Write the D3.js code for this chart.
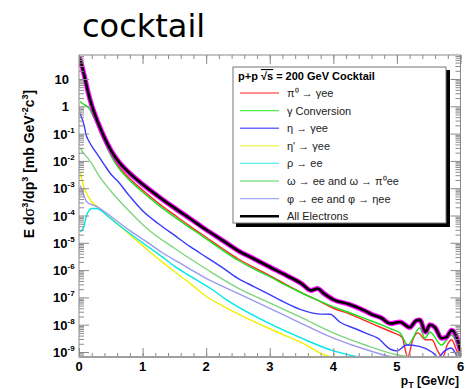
<!DOCTYPE html>
<html>
<head>
<meta charset="utf-8">
<script src="https://cdn.jsdelivr.net/npm/d3@7"></script>
<style>
  body { margin: 0; background: #fff; }
  svg { display: block; }
</style>
</head>
<body>
<div id="chart"></div>
<script>
// pT [GeV/c] vs E d3sigma/dp3 [mb GeV^-2 c^3]
var allElectrons = [[0,63],[0.02,50],[0.05,28],[0.1,8.9],[0.15,2.8],[0.2,1.1],[0.3,0.25],[0.4,0.071],
  [0.5,0.025],[0.6,0.011],[0.8,3.5e-3],[1.0,1.4e-3],[1.25,5.0e-4],[1.5,1.9e-4],[1.75,7.6e-5],[2.0,3.0e-5],
  [2.25,1.26e-5],[2.5,5.2e-6],[2.75,2.6e-6],[3.0,1.3e-6],[3.25,6.6e-7],[3.5,3.2e-7],[3.65,1.8e-7],
  [3.75,2.1e-7],[3.85,1.4e-7],[4.0,8.3e-8],[4.25,5.6e-8],[4.5,3.2e-8],[4.6,2.4e-8],[4.75,1.8e-8],
  [4.9,1.1e-8],[5.05,1.26e-8],[5.2,7.9e-9],[5.3,1.4e-8],[5.36,1.5e-8],[5.45,5.4e-9],[5.52,1.0e-8],
  [5.6,7.9e-9],[5.7,3.2e-9],[5.78,3.5e-9],[5.86,6.3e-9],[5.93,4.0e-9],[6.0,1.1e-9]];

var piZero = [[0,56],[0.02,42],[0.05,22],[0.1,7.1],[0.15,2.2],[0.2,0.85],[0.3,0.19],[0.4,0.052],
  [0.5,0.018],[0.6,7.6e-3],[0.8,2.2e-3],[1.0,8.5e-4],[1.25,2.8e-4],[1.5,1.05e-4],[1.75,4.0e-5],
  [2.0,1.6e-5],[2.25,6.3e-6],[2.5,2.6e-6],[2.75,1.26e-6],[3.0,6.3e-7],[3.25,3.0e-7],[3.5,1.5e-7],
  [3.75,7.9e-8],[4.0,4.0e-8],[4.25,2.5e-8],[4.5,1.4e-8],[4.75,7.9e-9],[4.95,5.0e-9],[5.08,3.5e-9],
  [5.17,4.0e-10],[5.25,2.8e-9],[5.33,5.0e-9],[5.45,2.8e-9],[5.55,2.8e-9],[5.65,1.0e-9],[5.72,4.0e-10],
  [5.8,2.0e-9],[5.86,2.8e-9],[5.95,1.0e-9],[6.0,5.0e-10]];

var gammaConv = [[0.02,1.5],[0.05,1.3],[0.1,1.1],[0.15,0.9],[0.2,0.56],[0.3,0.17],[0.4,0.048],
  [0.5,0.016],[0.6,6.6e-3],[0.8,1.9e-3],[1.0,7.2e-4],[1.25,2.4e-4],[1.5,8.9e-5],[1.75,3.5e-5],
  [2.0,1.4e-5],[2.25,5.5e-6],[2.5,2.3e-6],[2.75,1.1e-6],[3.0,5.8e-7],[3.25,2.8e-7],[3.5,1.45e-7],
  [3.75,7.9e-8],[4.0,4.5e-8],[4.25,2.8e-8],[4.5,1.66e-8],[4.75,1.0e-8],[4.9,7.1e-9],[5.05,5.0e-9],
  [5.17,1.8e-9],[5.36,7.6e-9],[5.44,3.2e-9],[5.52,5.4e-9],[5.7,1.8e-9],[5.86,4.2e-9],[5.97,1.2e-9],
  [6.0,6.3e-10]];

var eta = [[0.02,0.55],[0.08,0.2],[0.12,0.078],[0.15,0.056],[0.2,0.035],[0.3,0.016],[0.4,7.1e-3],
  [0.5,3.3e-3],[0.6,1.9e-3],[0.8,5.0e-4],[1.0,1.5e-4],[1.25,5.0e-5],[1.5,1.9e-5],[1.75,7.2e-6],
  [2.0,3.0e-6],[2.25,1.26e-6],[2.5,5.0e-7],[2.75,2.5e-7],[3.0,1.26e-7],[3.25,6.3e-8],[3.5,3.5e-8],
  [3.75,2.5e-8],[3.95,2.4e-8],[4.1,1.26e-8],[4.35,7.1e-9],[4.5,5.0e-9],[4.7,3.2e-9],[4.9,1.26e-9],
  [5.0,1.1e-9],[5.15,1.8e-9],[5.35,1.6e-9],[5.55,1.0e-9],[5.65,5.6e-10],[5.75,1.1e-9],[5.85,1.4e-9],
  [5.95,5.6e-10]];

var etaPrime = [[0.02,4.0e-3],[0.05,1.8e-3],[0.1,7.9e-4],[0.2,3.2e-4],[0.3,2.0e-4],[0.5,7.9e-5],
  [0.75,2.5e-5],[1.0,7.9e-6],[1.33,1.8e-6],[1.5,8.9e-7],[1.75,3.2e-7],[2.0,1.1e-7],[2.25,5.0e-8],
  [2.5,2.5e-8],[3.0,7.1e-9],[3.5,2.2e-9],[4.0,6.3e-10],[4.4,2.5e-10]];

var rho = [[0.02,2.5e-5],[0.07,3.5e-5],[0.12,1.0e-4],[0.2,1.8e-4],[0.28,1.8e-4],[0.35,1.5e-4],
  [0.43,1.05e-4],[0.6,5.0e-5],[0.8,2.2e-5],[1.0,1.0e-5],[1.33,2.8e-6],[1.5,1.4e-6],[1.75,6.0e-7],
  [2.1,1.9e-7],[2.33,7.9e-8],[2.5,4.5e-8],[3.0,1.1e-8],[3.5,3.2e-9],[4.0,1.1e-9],[4.4,5.0e-10]];

var omega = [[0.02,0.03],[0.08,0.018],[0.14,0.0126],[0.2,7.9e-3],[0.3,3.2e-3],[0.5,7.9e-4],
  [0.75,1.8e-4],[1.06,3.5e-5],[1.5,6.3e-6],[2.0,1.1e-6],[2.5,2.2e-7],[3.0,6.3e-8],[3.5,1.8e-8],
  [4.0,5.0e-9],[4.5,1.8e-9],[5.0,7.9e-10],[5.2,4.5e-10]];

var phi = [[0.02,1.26e-3],[0.06,7.1e-4],[0.12,3.2e-4],[0.2,2.5e-4],[0.28,2.1e-4],[0.4,1.4e-4],
  [0.54,7.9e-5],[0.8,2.8e-5],[1.06,1.1e-5],[1.3,4.5e-6],[1.59,1.8e-6],[2.0,5.0e-7],[2.5,1.4e-7],
  [3.0,4.0e-8],[3.5,1.1e-8],[4.0,3.2e-9],[4.5,1.26e-9],[5.0,6.3e-10],[5.2,4.0e-10]];

var xTicks = [0, 1, 2, 3, 4, 5, 6];
var yTickExps = [1, 0, -1, -2, -3, -4, -5, -6, -7, -8, -9];

var series = [
  { label: "π⁰ → γee", data: piZero, color: "#ff2a2a", legend: "#ff6a6a" },
  { label: "γ Conversion", data: gammaConv, color: "#1be01b", legend: "#4cf04c" },
  { label: "η → γee", data: eta, color: "#3a3aff", legend: "#6a6aff" },
  { label: "η' → γee", data: etaPrime, color: "#f0f000", legend: "#f4f46a" },
  { label: "ρ → ee", data: rho, color: "#00e8e8", legend: "#5af0f0" },
  { label: "ω → ee and ω → π⁰ee", data: omega, color: "#7ed67e", legend: "#8ee08e" },
  { label: "φ → ee and φ → ηee", data: phi, color: "#9a9af0", legend: "#a8a8f4" },
  { label: "All Electrons", data: allElectrons, color: "#000", legend: "#000" }
];

var W = 466, H = 389;
var margin = { top: 55, right: 5.5, bottom: 32, left: 79 };
var width = W - margin.left - margin.right,
    height = H - margin.top - margin.bottom;

var svg = d3.select("#chart").append("svg")
  .attr("width", W).attr("height", H)
  .style("font-family", "'Liberation Sans', Arial, sans-serif");

// title
svg.append("text")
  .attr("x", 82).attr("y", 37)
  .style("font-family", "'DejaVu Sans', sans-serif")
  .style("font-size", "32px")
  .text("cocktail");

var g = svg.append("g")
  .attr("transform", "translate(" + margin.left + "," + margin.top + ")");

var x = d3.scaleLinear().domain([0, 6]).range([0, width]);
var y = d3.scaleLog().domain([6.56e-10, 75.7]).range([height, 0]).clamp(true);

g.append("clipPath").attr("id", "clip")
  .append("rect").attr("width", width).attr("height", height + 1);

// curves
var line = d3.line()
  .x(function(d) { return x(d[0]); })
  .y(function(d) { return y(d[1]); })
  .curve(d3.curveMonotoneX);

var curves = g.append("g").attr("clip-path", "url(#clip)");
series.slice(0, 7).forEach(function(s) {
  curves.append("path")
    .attr("d", line(s.data))
    .attr("fill", "none")
    .attr("stroke", s.color)
    .attr("stroke-width", 1.4);
});
curves.append("path")
  .attr("d", line(allElectrons))
  .attr("fill", "none")
  .attr("stroke", "#ff00ff")
  .attr("stroke-width", 5);
curves.append("path")
  .attr("d", line(allElectrons))
  .attr("fill", "none")
  .attr("stroke", "#000")
  .attr("stroke-width", 2.6);

// axes: ticks on all four sides, pointing inwards
var axisColor = "#8a8a8a";
var minorX = d3.range(0, 6.01, 0.2).map(function(v) { return +v.toFixed(1); });
var majorY = yTickExps.map(function(e) { return Math.pow(10, e); });
var minorY = [];
d3.range(-10, 2).forEach(function(e) {
  d3.range(2, 10).forEach(function(m) {
    var v = m * Math.pow(10, e);
    if (v > y.domain()[0] && v < y.domain()[1]) minorY.push(v);
  });
});

function styleAxis(sel) {
  sel.select(".domain").remove();
  sel.selectAll("line").attr("stroke", axisColor);
  sel.selectAll("text").remove();
}

g.append("g").attr("transform", "translate(0," + height + ")")
  .call(d3.axisBottom(x).tickValues(minorX).tickSizeInner(-4).tickSizeOuter(0)).call(styleAxis);
g.append("g").attr("transform", "translate(0," + height + ")")
  .call(d3.axisBottom(x).tickValues(xTicks).tickSizeInner(-9).tickSizeOuter(0)).call(styleAxis);
g.append("g")
  .call(d3.axisTop(x).tickValues(minorX).tickSizeInner(-4).tickSizeOuter(0)).call(styleAxis);
g.append("g")
  .call(d3.axisTop(x).tickValues(xTicks).tickSizeInner(-9).tickSizeOuter(0)).call(styleAxis);

g.append("g")
  .call(d3.axisLeft(y).tickValues(minorY).tickSizeInner(-5).tickSizeOuter(0)).call(styleAxis);
g.append("g")
  .call(d3.axisLeft(y).tickValues(majorY).tickSizeInner(-10).tickSizeOuter(0)).call(styleAxis);
g.append("g").attr("transform", "translate(" + width + ",0)")
  .call(d3.axisRight(y).tickValues(minorY).tickSizeInner(-5).tickSizeOuter(0)).call(styleAxis);
g.append("g").attr("transform", "translate(" + width + ",0)")
  .call(d3.axisRight(y).tickValues(majorY).tickSizeInner(-10).tickSizeOuter(0)).call(styleAxis);

// frame
g.append("rect")
  .attr("width", width).attr("height", height)
  .attr("fill", "none").attr("stroke", axisColor).attr("stroke-width", 1);
g.append("line")
  .attr("x1", 0).attr("x2", width).attr("y1", height).attr("y2", height)
  .attr("stroke", "#a0a0a0").attr("stroke-width", 2);

// x tick labels
g.selectAll(".xl").data(xTicks).enter().append("text")
  .attr("x", function(d) { return x(d); })
  .attr("y", height + 14)
  .attr("text-anchor", "middle")
  .style("font-size", "13px").style("font-weight", "bold")
  .text(function(d) { return d; });

// y tick labels with superscript exponents
yTickExps.forEach(function(e) {
  var t = g.append("text")
    .attr("y", y(Math.pow(10, e)) + 5)
    .style("font-size", "13px").style("font-weight", "bold");
  if (e === 1) {
    t.attr("x", -10).attr("text-anchor", "end").text("10");
  } else if (e === 0) {
    t.attr("x", -10).attr("text-anchor", "end").text("1");
  } else {
    t.attr("x", -26).append("tspan").text("10");
    t.append("tspan").attr("dy", -6).style("font-size", "8px").text(String(e));
  }
});

// axis titles
var xt = svg.append("text")
  .attr("x", 459).attr("y", 385)
  .attr("text-anchor", "end")
  .style("font-size", "12px").style("font-weight", "bold");
xt.append("tspan").text("p");
xt.append("tspan").attr("dy", 3).style("font-size", "9px").text("T");
xt.append("tspan").attr("dy", -3).text(" [GeV/c]");

var yt = svg.append("text")
  .attr("transform", "translate(34,164) rotate(-90)")
  .attr("text-anchor", "middle")
  .style("font-size", "14px").style("font-weight", "bold");
yt.append("tspan").text("E d");
yt.append("tspan").style("font-weight", "normal").text("σ");
yt.append("tspan").attr("dy", -6).style("font-size", "9px").text("3");
yt.append("tspan").attr("dy", 6).text("/dp");
yt.append("tspan").attr("dy", -6).style("font-size", "9px").text("3");
yt.append("tspan").attr("dy", 6).text(" [mb GeV");
yt.append("tspan").attr("dy", -6).style("font-size", "9px").text("-2");
yt.append("tspan").attr("dy", 6).text("c");
yt.append("tspan").attr("dy", -6).style("font-size", "9px").text("3");
yt.append("tspan").attr("dy", 6).text("]");

// legend
var lg = svg.append("g").attr("transform", "translate(233,67)");
lg.append("rect").attr("x", 3).attr("y", 3).attr("width", 214).attr("height", 157).attr("fill", "#000");
lg.append("rect").attr("width", 213).attr("height", 156)
  .attr("fill", "#fff").attr("stroke", "#777").attr("stroke-width", 1);
var lt = lg.append("text").attr("x", 5).attr("y", 13)
  .style("font-size", "11px").style("font-weight", "bold");
lt.append("tspan").text("p+p ");
lt.append("tspan").style("text-decoration", "overline").text("√s");
lt.append("tspan").text(" = 200 GeV Cocktail");

series.forEach(function(s, i) {
  var yy = 26 + i * 17.6;
  lg.append("line")
    .attr("x1", 7).attr("x2", 46).attr("y1", yy).attr("y2", yy)
    .attr("stroke", s.legend).attr("stroke-width", i === 7 ? 2.4 : 1.4);
  lg.append("text").attr("x", 54).attr("y", yy + 4)
    .style("font-size", "11px").attr("fill", "#222")
    .text(s.label);
});
</script>
</body>
</html>
